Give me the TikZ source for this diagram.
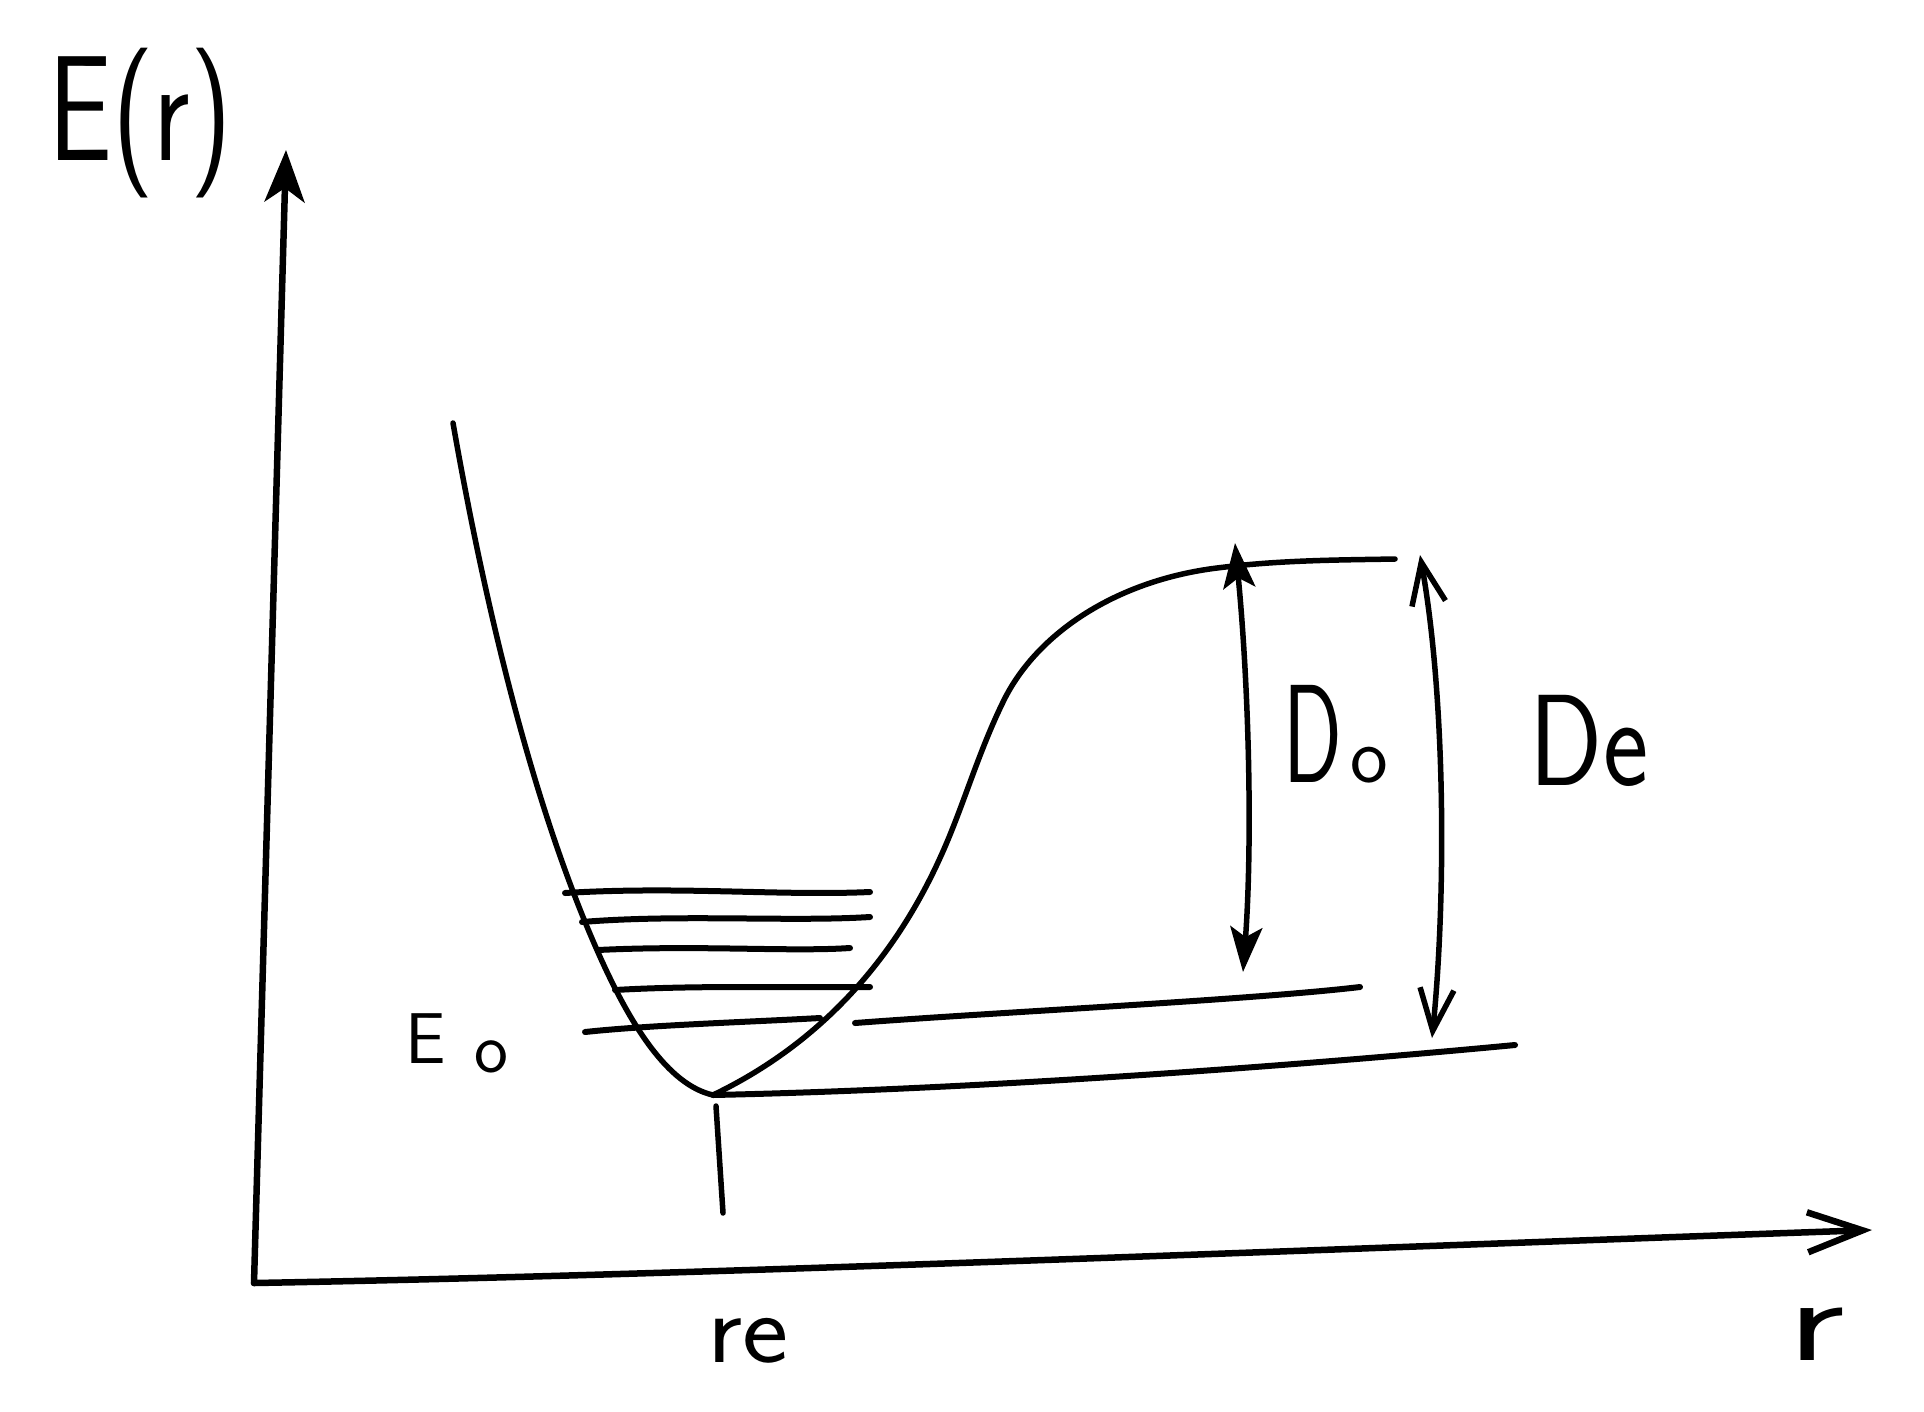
\documentclass[tikz,border=0pt]{standalone}
\usetikzlibrary{arrows.meta}
\begin{document}
\begin{tikzpicture}[x=1pt,y=-1pt,
  ink/.style={line width=5.5pt, line cap=round, line join=round},
  axis/.style={line width=6.5pt, line cap=round, line join=round},
  lvl/.style={line width=6pt, line cap=round},
  lbl/.style={inner sep=0pt, font=\sffamily},
]
\useasboundingbox (0,0) rectangle (1924,1411);
\fill[white] (0,0) rectangle (1924,1411);

% axes
\coordinate (O) at (254,1283);
\coordinate (Ytip) at (286,150);
\coordinate (Xtip) at (1872,1230);
\draw[axis, -{Stealth[length=52pt,width=40pt,inset=14pt]}] (O) -- (Ytip);
\draw[axis, -{Straight Barb[length=55pt,width=40pt]}] (O) .. controls (700,1275) and (1300,1250) .. (Xtip);

% potential curve
\coordinate (Cstart) at (453,423);
\coordinate (Cmin) at (713,1095);
\coordinate (Cend) at (1395,559);
\draw[ink] (Cstart) .. controls (487,617) and (535,810) .. (597,950)
  .. controls (630,1025) and (668,1085) .. (Cmin);
\draw[ink] (Cmin) .. controls (790,1058) and (880,990) .. (940,858)
  .. controls (963,808) and (978,752) .. (1005,698)
  .. controls (1040,630) and (1120,580) .. (1217,568)
  .. controls (1280,560) and (1340,560) .. (Cend);

% vibrational levels
\draw[lvl] (565,893) .. controls (680,886) and (780,896) .. (870,892);
\draw[lvl] (582,922) .. controls (680,914) and (790,922) .. (870,917);
\draw[lvl] (598,950) .. controls (700,945) and (790,952) .. (850,948);
\draw[lvl] (615,990) .. controls (700,985) and (800,988) .. (870,987);
\draw[lvl] (585,1032) .. controls (650,1025) and (750,1022) .. (820,1018);
\draw[lvl] (855,1023) .. controls (1000,1012) and (1250,1000) .. (1360,987);
\draw[lvl] (Cmin) .. controls (950,1090) and (1250,1070) .. (1515,1045);

% r_e tick
\coordinate (tickT) at (716,1106);
\coordinate (tickB) at (723,1213);
\draw[ink] (tickT) -- (tickB);

% dissociation arrows
\coordinate (DoT) at (1235,543);
\coordinate (DoB) at (1243,972);
\coordinate (DeT) at (1420,555);
\coordinate (DeB) at (1432,1038);
\draw[ink, {Stealth[length=45pt,width=32pt,inset=10pt]}-{Stealth[length=45pt,width=32pt,inset=10pt]}] (DoT) .. controls (1250,700) and (1252,850) .. (DoB);
\draw[ink, {Straight Barb[length=42pt,width=34pt]}-{Straight Barb[length=42pt,width=34pt]}] (DeT) .. controls (1446,700) and (1446,900) .. (DeB);

% labels
\node[lbl, anchor=base] (Er) at (140,160) {\fontsize{150}{150}\selectfont\scalebox{0.76}[1]{E(r)}};
\node[lbl, anchor=base] (Do) at (1336,782) {\scalebox{0.62}[1]{\fontsize{140}{140}\selectfont D}\kern8pt{\fontsize{80}{80}\selectfont o}};
\node[lbl, anchor=base] (De) at (1589,785) {\fontsize{130}{130}\selectfont\scalebox{0.83}[1]{De}};
\node[lbl, anchor=base] (Eo) at (457,1063) {\fontsize{72}{72}\selectfont E\kern28pt\raisebox{-9pt}{o}};
\node[lbl, anchor=base] (re) at (748,1362) {\fontsize{100}{100}\selectfont\scalebox{1.1}[1]{re}};
\node[lbl, anchor=base] (rl) at (1816,1360) {\fontsize{120}{120}\selectfont\scalebox{1.5}[1]{r}};
\end{tikzpicture}
\end{document}
